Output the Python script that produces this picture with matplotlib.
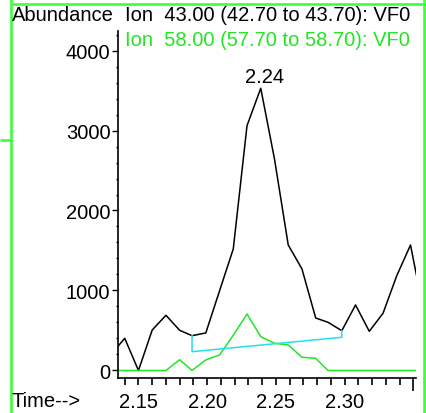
#!/usr/bin/env python3
"""Extracted ion chromatogram (m/z 43 and 58) around the 2.24 min peak."""

from __future__ import annotations

import matplotlib

matplotlib.use("Agg")
import matplotlib.pyplot as plt
import numpy as np
from matplotlib.lines import Line2D
from matplotlib.ticker import MultipleLocator


OUT_PNG = "out.png"

# retention time (min) of each scan
TIMES = [2.130, 2.140, 2.150, 2.160, 2.170, 2.180, 2.189, 2.199, 2.209, 2.219, 2.229, 2.239,
         2.249, 2.259, 2.269, 2.279, 2.288, 2.298, 2.308, 2.318, 2.328, 2.338, 2.348, 2.358]
ION_43 = [200, 402, 0, 506, 690, 502, 435, 469, 995, 1519, 3060, 3528,
          2644, 1569, 1269, 656, 602, 497, 819, 490, 715, 1185, 1569, 700]
ION_58 = [0, 0, 0, 0, 0, 135, 0, 132, 194, 440, 706, 423,
          340, 319, 165, 152, 0, 0, 0, 0, 0, 0, 0, 0]

# integration baseline drawn under the ion 43 peak
BASELINE_TIMES = [2.189, 2.298]
BASELINE_VALUES = [235, 415]

HEADER_43 = "Ion  43.00 (42.70 to 43.70): VF0"
HEADER_58 = "Ion  58.00 (57.70 to 58.70): VF0"
X_TICKS = [2.15, 2.20, 2.25, 2.30, 2.35]
X_TICK_LABELS = ["2.15", "2.20", "2.25", "2.30", ""]
Y_TICKS = [0, 1000, 2000, 3000, 4000]

W, H = 427, 414
FONT = "Liberation Sans"
FS = 14.5
GREEN = "#22e622"
FRAME_GREEN = "#3cff3c"
CYAN = "#22e0f0"


def fx(px):
    return px / W


def fy(py):
    return 1 - py / H


def draw_frame(fig):
    kw = dict(transform=fig.transFigure, color=FRAME_GREEN, lw=1.9, solid_capstyle="butt")
    fig.add_artist(Line2D([fx(11.5), fx(11.5)], [fy(0), fy(H)], **kw))
    fig.add_artist(Line2D([fx(424.5), fx(424.5)], [fy(0), fy(H)], **kw))
    fig.add_artist(Line2D([fx(11), fx(425)], [fy(4.5), fy(4.5)], **kw))
    fig.add_artist(Line2D([fx(0), fx(11)], [fy(141), fy(141)], **kw))


def plot():
    plt.rcParams["font.family"] = [FONT, "DejaVu Sans"]
    fig = plt.figure(figsize=(W / 100, H / 100), dpi=100)
    ax = fig.add_axes([fx(118), fy(379), fx(416) - fx(118), fy(32) - fy(379)])

    t = np.array(TIMES)
    y43 = np.array(ION_43)
    y58 = np.array(ION_58)

    ax.plot(t, y43, color="black", lw=1.1)
    ax.plot(t, y58, color=GREEN, lw=1.1)

    # baseline: drop from the trace, across, and back up to the trace
    i0 = TIMES.index(BASELINE_TIMES[0])
    i1 = TIMES.index(BASELINE_TIMES[1])
    bx = [BASELINE_TIMES[0], BASELINE_TIMES[0], BASELINE_TIMES[1], BASELINE_TIMES[1]]
    by = [ION_43[i0], BASELINE_VALUES[0], BASELINE_VALUES[1], ION_43[i1]]
    ax.plot(bx, by, color=CYAN, lw=1.1)

    peak = int(np.argmax(y43))
    ax.annotate(f"{t[peak]:.2f}", xy=(t[peak], y43[peak]), xytext=(2.5, 4.5),
                textcoords="offset points", ha="center", va="baseline", fontsize=FS)

    ax.set_xlim(2.1351, 2.352)
    ax.set_ylim(-94, 4244)

    for side in ("top", "right"):
        ax.spines[side].set_visible(False)
    for side in ("left", "bottom"):
        ax.spines[side].set_linewidth(1.2)

    ax.set_xticks(X_TICKS)
    ax.set_xticklabels(X_TICK_LABELS)
    ax.xaxis.set_minor_locator(MultipleLocator(0.01))
    ax.tick_params(axis="x", which="both", direction="out", length=5, width=1.2,
                   labelsize=FS, pad=5)
    ax.xaxis.get_major_ticks()[-1].tick1line.set_markersize(9)

    ax.set_yticks(Y_TICKS)
    ax.yaxis.set_minor_locator(MultipleLocator(200))
    ax.tick_params(axis="y", which="major", direction="out", length=4, width=1.0,
                   labelsize=FS, pad=1.5)
    ax.tick_params(axis="y", which="minor", direction="out", length=1.5, width=1.0)

    fig.text(fx(12), fy(21), "Abundance", fontsize=FS, va="baseline")
    fig.text(fx(125), fy(21), HEADER_43, fontsize=FS, va="baseline")
    fig.text(fx(125), fy(46.5), HEADER_58, fontsize=FS, va="baseline", color=GREEN)
    fig.text(fx(12), fy(407), "Time-->", fontsize=FS, va="baseline")

    draw_frame(fig)
    fig.savefig(OUT_PNG, dpi=100)
    plt.close(fig)


def main() -> None:
    plot()
    print(f"Saved {OUT_PNG}")


if __name__ == "__main__":
    main()
